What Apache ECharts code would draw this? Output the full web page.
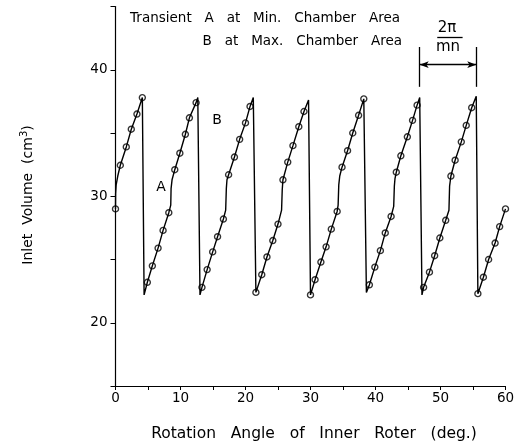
<!DOCTYPE html>
<html>
<head>
<meta charset="utf-8">
<script src="https://cdn.jsdelivr.net/npm/echarts@6/dist/echarts.min.js"></script>
<style>
  html, body { margin: 0; padding: 0; background: #fff; }
  #chart { width: 523px; height: 446px; }
</style>
</head>
<body>
<div id="chart"></div>
<script>
// rotation angle (deg) / inlet volume (cm3)
// path of the drawn curve, including the transients and the drops
let curve = [
  [0, 29.0], [0.02, 30.2], [0.1, 30.9], [0.35, 31.6], [0.74, 32.45], [1.66, 33.9], [2.43, 35.3], [3.3, 36.5], [4.13, 37.8],
  [4.4, 22.2], [4.9, 23.2], [5.67, 24.5], [6.55, 25.9], [7.32, 27.3], [8.2, 28.7], [8.5, 29.3], [8.55, 30.6], [8.7, 31.3],
  [9.12, 32.1], [9.9, 33.4], [10.75, 34.9], [11.37, 36.2], [12.4, 37.4], [12.66, 37.8],
  [13.0, 22.2], [13.3, 22.8], [14.1, 24.2], [14.95, 25.6], [15.7, 26.8], [16.6, 28.2], [16.95, 28.9], [17.05, 30.6], [17.15, 31.3],
  [17.4, 31.7], [18.3, 33.1], [19.1, 34.5], [20.0, 35.8], [20.7, 37.1], [21.2, 37.8],
  [21.6, 22.4], [22.5, 23.8], [23.3, 25.2], [24.2, 26.5], [25.0, 27.8], [25.55, 28.9], [25.65, 30.5],
  [25.76, 31.3], [26.5, 32.7], [27.3, 34.0], [28.2, 35.5], [29.0, 36.7], [29.7, 37.6],
  [30.0, 22.2], [30.7, 23.4], [31.6, 24.8], [32.4, 26.0], [33.2, 27.4], [34.1, 28.8], [34.25, 29.3], [34.35, 30.9], [34.5, 31.6],
  [34.85, 32.3], [35.7, 33.6], [36.5, 35.0], [37.4, 36.4], [38.2, 37.7],
  [38.6, 22.4], [39.06, 23.0], [39.9, 24.4], [40.75, 25.7], [41.5, 27.1], [42.4, 28.4], [42.8, 29.2], [42.9, 30.8], [43.0, 31.4],
  [43.2, 31.9], [43.9, 33.2], [44.9, 34.7], [45.7, 36.0], [46.4, 37.2], [46.8, 37.8],
  [47.15, 22.2], [47.4, 22.8], [48.3, 24.0], [49.1, 25.3], [49.9, 26.7], [50.8, 28.1], [51.3, 28.9], [51.4, 30.8],
  [51.6, 31.6], [52.25, 32.85], [53.2, 34.3], [53.96, 35.6], [54.8, 37.0], [55.5, 37.9],
  [55.75, 22.3], [56.6, 23.6], [57.4, 25.0], [58.4, 26.3], [59.1, 27.6], [60.0, 29.0]
];

// measured points (small circles)
let circles = [
  [0, 29.0], [0.74, 32.45], [1.66, 33.9], [2.43, 35.3], [3.3, 36.5], [4.13, 37.8],
  [4.9, 23.2], [5.67, 24.5], [6.55, 25.9], [7.32, 27.3], [8.2, 28.7],
  [9.12, 32.1], [9.9, 33.4], [10.75, 34.9], [11.37, 36.2], [12.4, 37.4],
  [13.3, 22.8], [14.1, 24.2], [14.95, 25.6], [15.7, 26.8], [16.6, 28.2],
  [17.4, 31.7], [18.3, 33.1], [19.1, 34.5], [20.0, 35.8], [20.7, 37.1],
  [21.6, 22.4], [22.5, 23.8], [23.3, 25.2], [24.2, 26.5], [25.0, 27.8],
  [25.76, 31.3], [26.5, 32.7], [27.3, 34.0], [28.2, 35.5], [29.0, 36.7],
  [30.0, 22.2], [30.7, 23.4], [31.6, 24.8], [32.4, 26.0], [33.2, 27.4], [34.1, 28.8],
  [34.85, 32.3], [35.7, 33.6], [36.5, 35.0], [37.4, 36.4], [38.2, 37.7],
  [39.06, 23.0], [39.9, 24.4], [40.75, 25.7], [41.5, 27.1], [42.4, 28.4],
  [43.2, 31.9], [43.9, 33.2], [44.9, 34.7], [45.7, 36.0], [46.4, 37.2],
  [47.4, 22.8], [48.3, 24.0], [49.1, 25.3], [49.9, 26.7], [50.8, 28.1],
  [51.6, 31.6], [52.25, 32.85], [53.2, 34.3], [53.96, 35.6], [54.8, 37.0],
  [55.75, 22.3], [56.6, 23.6], [57.4, 25.0], [58.4, 26.3], [59.1, 27.6], [60.0, 29.0]
];

let xLabels = [0, 10, 20, 30, 40, 50, 60];
let yLabels = [20, 30, 40];

// one period 2pi/mn marked between two drops
let periodFrom = 46.8;
let periodTo = 55.5;

const FONT = 'DejaVu Sans';

let chart = echarts.init(document.getElementById('chart'));

let option = {
  animation: false,
  grid: { left: 115.5, right: 17.5, top: 6.5, bottom: 60, containLabel: false },
  xAxis: {
    type: 'value', min: 0, max: 60, interval: 5,
    axisLine: { lineStyle: { color: '#000', width: 1.2 } },
    axisTick: { length: 4, lineStyle: { color: '#000', width: 1 } },
    splitLine: { show: false },
    axisLabel: {
      color: '#000', fontFamily: FONT, fontSize: 13.5, margin: 5,
      formatter: v => xLabels.indexOf(v) >= 0 ? String(v) : ''
    }
  },
  yAxis: {
    type: 'value', min: 15, max: 45, interval: 5,
    axisLine: { lineStyle: { color: '#000', width: 1.2 } },
    axisTick: { length: 5, lineStyle: { color: '#000', width: 1 } },
    splitLine: { show: false },
    axisLabel: {
      color: '#000', fontFamily: FONT, fontSize: 13.5, margin: 8,
      formatter: v => yLabels.indexOf(v) >= 0 ? String(v) : ''
    }
  },
  series: [
    {
      type: 'line',
      data: curve,
      showSymbol: false,
      symbol: 'none',
      lineStyle: { color: '#000', width: 1.4 },
      markLine: {
        silent: true,
        symbol: 'none',
        lineStyle: { color: '#000', width: 1.3, type: 'solid' },
        label: { show: false },
        data: [
          [{ coord: [periodFrom, 38.65] }, { coord: [periodFrom, 41.8] }],
          [{ coord: [periodTo, 38.65] }, { coord: [periodTo, 41.8] }],
          [{ coord: [49.5, 42.55] }, { coord: [53.4, 42.55] }]
        ]
      }
    },
    {
      type: 'line',
      data: [],
      markLine: {
        silent: true,
        symbol: ['arrow', 'arrow'],
        symbolSize: [5, 9],
        lineStyle: { color: '#000', width: 1.3, type: 'solid' },
        label: { show: false },
        data: [
          [{ coord: [periodFrom, 40.4] }, { coord: [periodTo, 40.4] }]
        ]
      }
    },
    {
      type: 'scatter',
      data: circles,
      symbol: 'circle',
      symbolSize: 6,
      itemStyle: { color: 'rgba(0,0,0,0)', borderColor: '#000', borderWidth: 1.4 },
      z: 3
    }
  ],
  graphic: [
    { type: 'text', right: 123, top: 11,
      style: { text: 'Transient   A   at   Min.   Chamber   Area', font: '13.5px "DejaVu Sans"', fill: '#000' } },
    { type: 'text', right: 121, top: 34,
      style: { text: 'B   at   Max.   Chamber   Area', font: '13.5px "DejaVu Sans"', fill: '#000' } },
    { type: 'text', x: 447, y: 28,
      style: { text: '2π', font: '15px "DejaVu Sans"', fill: '#000', align: 'center', verticalAlign: 'middle' } },
    { type: 'text', x: 448, y: 47,
      style: { text: 'mn', font: '15px "DejaVu Sans"', fill: '#000', align: 'center', verticalAlign: 'middle' } },
    { type: 'text', x: 161, y: 187,
      style: { text: 'A', font: '14px "DejaVu Sans"', fill: '#000', align: 'center', verticalAlign: 'middle' } },
    { type: 'text', x: 217, y: 120,
      style: { text: 'B', font: '14px "DejaVu Sans"', fill: '#000', align: 'center', verticalAlign: 'middle' } },
    { type: 'text', x: 314, y: 434,
      style: { text: 'Rotation   Angle   of   Inner   Roter   (deg.)', font: '15.5px "DejaVu Sans"', fill: '#000', align: 'center', verticalAlign: 'middle' } },
    { type: 'text', x: 28, y: 195, rotation: Math.PI / 2,
      style: { rich: { n: { font: '14px "DejaVu Sans"', fill: '#000' }, s: { font: '10px "DejaVu Sans"', fill: '#000', verticalAlign: 'top', padding: [0, 0, 8, 0] } },
               text: '{n|Inlet  Volume  (cm}{s|3}{n|)}', align: 'center', verticalAlign: 'middle' } }
  ]
};

chart.setOption(option);
</script>
</body>
</html>
